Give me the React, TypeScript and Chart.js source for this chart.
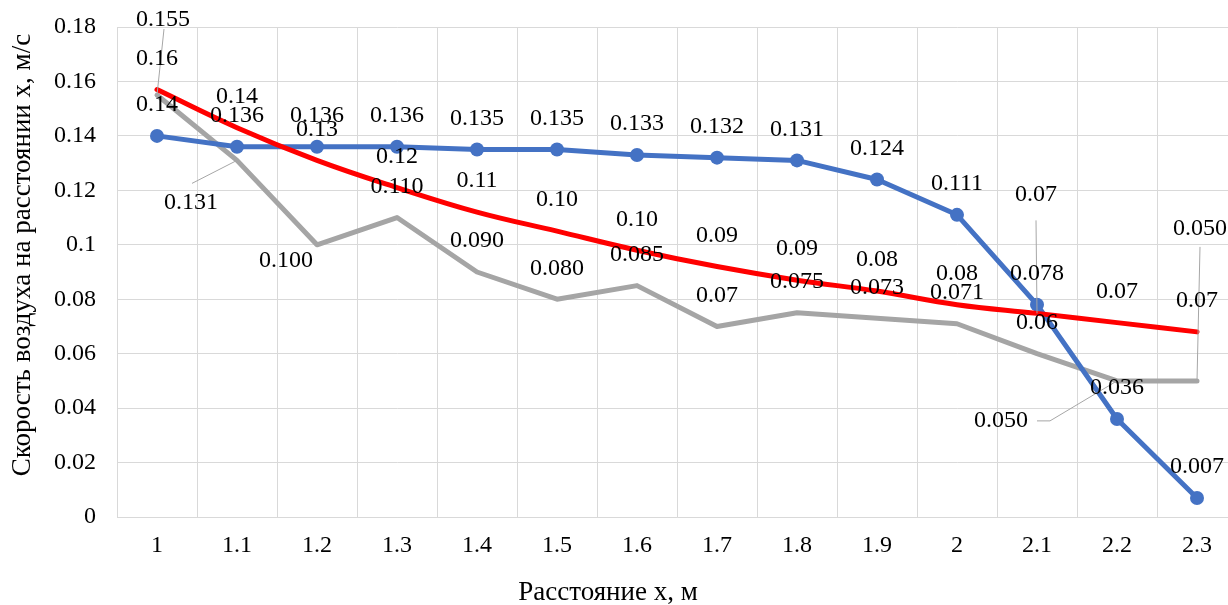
import React, { useEffect, useRef } from 'react';
import { Chart, registerables } from 'chart.js';

Chart.register(...registerables);

// ---------- data ----------
const categories = ['1', '1.1', '1.2', '1.3', '1.4', '1.5', '1.6', '1.7', '1.8', '1.9', '2', '2.1', '2.2', '2.3'];

const blueValues = [0.14, 0.136, 0.136, 0.136, 0.135, 0.135, 0.133, 0.132, 0.131, 0.124, 0.111, 0.078, 0.036, 0.007];
const grayValues = [0.155, 0.131, 0.1, 0.11, 0.09, 0.08, 0.085, 0.07, 0.075, 0.073, 0.071, 0.06, 0.05, 0.05];
const redValues = [0.157, 0.143, 0.131, 0.121, 0.112, 0.105, 0.098, 0.092, 0.087, 0.083, 0.078, 0.0748, 0.0714, 0.068];

const blueLabels = ['0.14', '0.136', '0.136', '0.136', '0.135', '0.135', '0.133', '0.132', '0.131', '0.124', '0.111', '0.078', '0.036', '0.007'];
const grayLabels = ['0.155', '0.131', '0.100', '0.110', '0.090', '0.080', '0.085', '0.07', '0.075', '0.073', '0.071', '0.06', '0.050', '0.050'];
const redLabels = ['0.16', '0.14', '0.13', '0.12', '0.11', '0.10', '0.10', '0.09', '0.09', '0.08', '0.08', '0.07', '0.07', '0.07'];

const yTickValues = [0, 0.02, 0.04, 0.06, 0.08, 0.1, 0.12, 0.14, 0.16, 0.18];
const yTickLabels = ['0', '0.02', '0.04', '0.06', '0.08', '0.1', '0.12', '0.14', '0.16', '0.18'];

const xTitle = 'Расстояние x, м';
const yTitle = 'Скорость воздуха на расстоянии x, м/с';

// ---------- styles ----------
const FONT = '"Liberation Serif", "Times New Roman", serif';
const BLUE = '#4472C4';
const GRAY = '#A5A5A5';
const RED = '#FF0000';
const GRID = '#D9D9D9';

type Override = { dx: number; dy: number; leader?: number[][] };
const DEFAULT_DY = -31;

// label placement overrides (pixel offsets of label centre from its point), like manually moved Excel labels
const redOverrides: Record<number, Override> = {
  11: { dx: -1, dy: -119, leader: [[0, 26]] },
};
const blueOverrides: Record<number, Override> = {};
const grayOverrides: Record<number, Override> = {
  0: { dx: 6, dy: -75, leader: [[1, 9]] },
  1: { dx: -46, dy: 42, leader: [[1, -19]] },
  2: { dx: -31, dy: 16 },
  12: { dx: -116, dy: 40, leader: [[36, 0], [49, 0]] },
  13: { dx: 3, dy: -152, leader: [[0, 18]] },
};

const labelSets = [
  { texts: redLabels, overrides: redOverrides },
  { texts: blueLabels, overrides: blueOverrides },
  { texts: grayLabels, overrides: grayOverrides },
];

const labelPlugin = {
  id: 'excelDataLabels',
  afterDatasetsDraw(chart: any) {
    const ctx = chart.ctx;
    ctx.save();
    // leader lines
    labelSets.forEach((set, di) => {
      const meta = chart.getDatasetMeta(di);
      meta.data.forEach((pt: any, i: number) => {
        const o = set.overrides[i];
        if (!o || !o.leader) return;
        const lx = pt.x + o.dx;
        const ly = pt.y + o.dy;
        ctx.beginPath();
        ctx.strokeStyle = '#A6A6A6';
        ctx.lineWidth = 1;
        o.leader.forEach((p, k) => {
          if (k === 0) ctx.moveTo(lx + p[0], ly + p[1]);
          else ctx.lineTo(lx + p[0], ly + p[1]);
        });
        ctx.lineTo(pt.x, pt.y);
        ctx.stroke();
      });
    });
    // texts
    ctx.font = `24px ${FONT}`;
    ctx.fillStyle = '#000';
    ctx.textAlign = 'center';
    ctx.textBaseline = 'middle';
    [2, 1, 0].forEach((di) => {
      const set = labelSets[di];
      const meta = chart.getDatasetMeta(di);
      meta.data.forEach((pt: any, i: number) => {
        const o = set.overrides[i];
        const lx = pt.x + (o ? o.dx : 0);
        const ly = pt.y + (o ? o.dy : DEFAULT_DY);
        ctx.fillText(set.texts[i], lx, ly);
      });
    });
    ctx.restore();
  },
};

const titlePlugin = {
  id: 'axisTitles',
  afterDraw(chart: any) {
    const ctx = chart.ctx;
    ctx.save();
    ctx.font = `27px ${FONT}`;
    ctx.fillStyle = '#000';
    ctx.textAlign = 'center';
    ctx.textBaseline = 'middle';
    ctx.fillText(xTitle, 608, 593);
    ctx.translate(23, 255);
    ctx.rotate(-Math.PI / 2);
    ctx.fillText(yTitle, 0, 0);
    ctx.restore();
  },
};

export default function App() {
  const ref = useRef<HTMLCanvasElement | null>(null);

  useEffect(() => {
    if (!ref.current) return;
    const chart = new Chart(ref.current, {
      type: 'line',
      data: {
        labels: categories,
        datasets: [
          {
            label: 'red',
            data: redValues,
            borderColor: RED,
            backgroundColor: RED,
            borderWidth: 5,
            tension: 0.4,
            pointRadius: 0,
            borderCapStyle: 'round',
            borderJoinStyle: 'round',
          },
          {
            label: 'blue',
            data: blueValues,
            borderColor: BLUE,
            backgroundColor: BLUE,
            borderWidth: 5,
            tension: 0,
            pointRadius: 7,
            pointBackgroundColor: BLUE,
            pointBorderColor: BLUE,
            pointBorderWidth: 0,
            borderCapStyle: 'round',
            borderJoinStyle: 'round',
          },
          {
            label: 'gray',
            data: grayValues,
            borderColor: GRAY,
            backgroundColor: GRAY,
            borderWidth: 5,
            tension: 0,
            pointRadius: 0,
            borderCapStyle: 'round',
            borderJoinStyle: 'round',
          },
        ],
      } as any,
      options: {
        responsive: false,
        animation: false,
        devicePixelRatio: 1,
        events: [],
        layout: { padding: { top: 27, right: 8, left: 0, bottom: 0 } },
        plugins: {
          legend: { display: false },
          tooltip: { enabled: false },
          title: { display: false },
        },
        scales: {
          x: {
            type: 'category',
            offset: true,
            grid: { offset: true, color: GRID, lineWidth: 1, drawTicks: false },
            border: { color: GRID, width: 1 },
            ticks: {
              font: { family: FONT, size: 24 },
              color: '#000',
              padding: 14,
              maxRotation: 0,
              autoSkip: false,
            },
            afterFit: (s: any) => {
              s.height = 88;
            },
          },
          y: {
            min: 0,
            max: 0.18,
            afterBuildTicks: (s: any) => {
              s.ticks = yTickValues.map((v) => ({ value: v }));
            },
            grid: {
              color: GRID,
              lineWidth: 1,
              drawTicks: true,
              tickLength: 21,
              tickColor: 'rgba(0,0,0,0)',
            },
            border: { color: GRID, width: 1 },
            ticks: {
              font: { family: FONT, size: 24 },
              color: '#000',
              padding: 0,
              callback: (_v: any, i: number) => yTickLabels[i],
            },
            afterFit: (s: any) => {
              s.width = 117;
            },
          },
        },
      } as any,
      plugins: [labelPlugin, titlePlugin],
    });
    return () => chart.destroy();
  }, []);

  return (
    <div
      style={{
        position: 'fixed',
        left: 0,
        top: 0,
        width: 1228,
        height: 605,
        overflow: 'hidden',
        background: '#fff',
      }}
    >
      <canvas ref={ref} width={1245} height={605} style={{ display: 'block', width: 1245, height: 605 }} />
    </div>
  );
}
